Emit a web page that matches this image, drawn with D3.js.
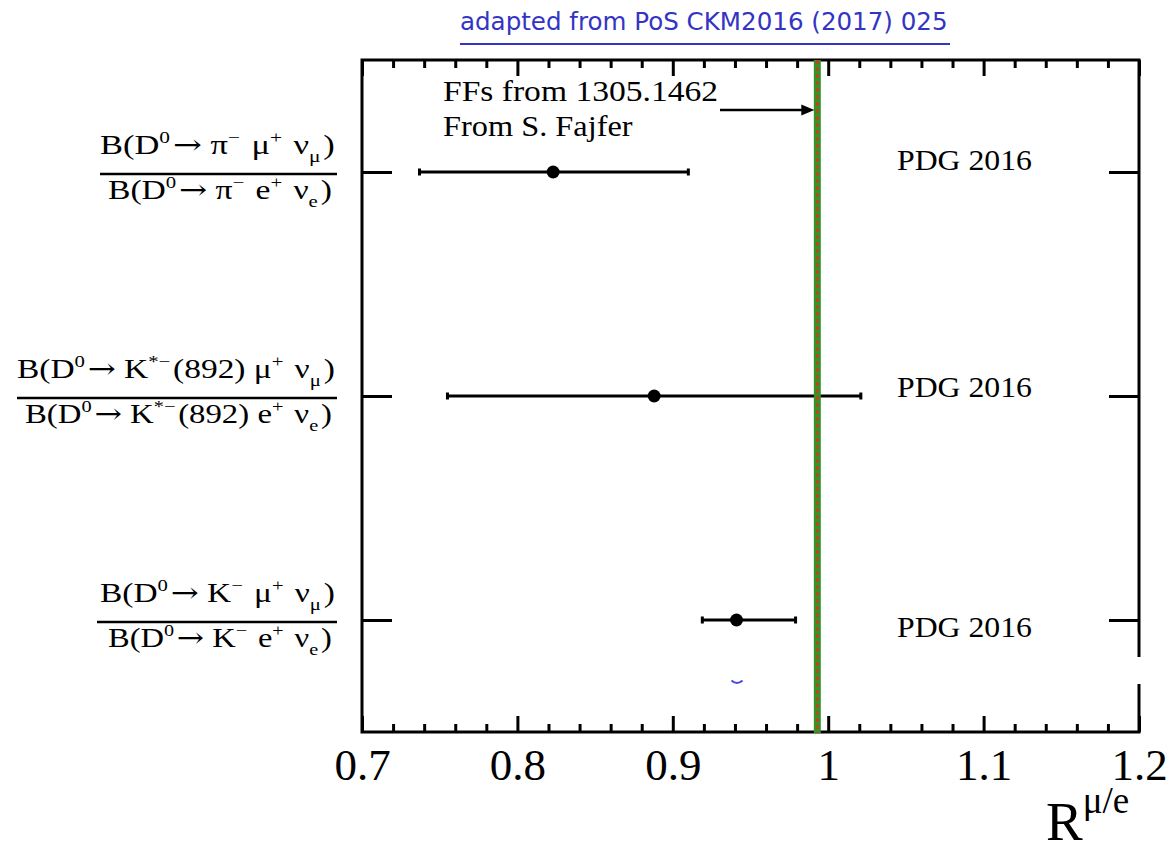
<!DOCTYPE html>
<html>
<head>
<meta charset="utf-8">
<script src="https://cdn.jsdelivr.net/npm/d3@7"></script>
<style>
  html, body { margin: 0; padding: 0; background: #fff; }
  svg { display: block; }
</style>
</head>
<body>
<svg id="chart" width="1173" height="853"></svg>
<script>
// Lepton-universality ratios R(mu/e) for semileptonic D0 decays
const channels = ["pi", "kstar", "k"];
const numeratorLabels = [
  "B(D^{0}→ π^{−} μ^{+} ν_{μ})",
  "B(D^{0}→ K^{*−}(892) μ^{+} ν_{μ})",
  "B(D^{0}→ K^{−} μ^{+} ν_{μ})"
];
const denominatorLabels = [
  "B(D^{0}→ π^{−} e^{+} ν_{e})",
  "B(D^{0}→ K^{*−}(892) e^{+} ν_{e})",
  "B(D^{0}→ K^{−} e^{+} ν_{e})"
];
const ratioValues = [0.823, 0.888, 0.941];
const errorLow = [0.086, 0.133, 0.022];
const errorHigh = [0.087, 0.133, 0.038];
const sourceLabels = ["PDG 2016", "PDG 2016", "PDG 2016"];
const predictionValue = 0.993;
const predictionNote = ["FFs from 1305.1462", "From S. Fajfer"];
const xTickValues = [0.7, 0.8, 0.9, 1.0, 1.1, 1.2];
const xTickLabels = ["0.7", "0.8", "0.9", "1", "1.1", "1.2"];
const titleText = "adapted from PoS CKM2016 (2017) 025";

const SERIF = "'Liberation Serif', 'Times New Roman', serif";
const svg = d3.select("#chart");

const frame = { left: 362, right: 1139, top: 60, bottom: 732 };
const x = d3.scaleLinear().domain([0.7, 1.2]).range([frame.left, frame.right]);
const y = d3.scalePoint().domain(channels).range([frame.top, frame.bottom]).padding(0.5);

// Fit a text element horizontally into [x0, x1] by stretching it
function fitWidth(sel, x0, x1) {
  const w = sel.node().getBBox().width;
  sel.attr("x", 0).attr("transform", `translate(${x0},0) scale(${(x1 - x0) / w},1)`);
}

// Title with underline
const title = svg.append("text")
  .attr("x", 460).attr("y", 30)
  .attr("font-family", "'DejaVu Sans', sans-serif")
  .attr("font-size", 21)
  .attr("fill", "#3434c4")
  .text(titleText);
const tw0 = title.node().getComputedTextLength();
title.attr("font-size", 21 * 488 / tw0);
svg.append("line")
  .attr("x1", 460).attr("x2", 950)
  .attr("y1", 44).attr("y2", 44)
  .attr("stroke", "#3434c4").attr("stroke-width", 2);

// Minor and major ticks, bottom and top, pointing into the frame
const minorTicks = d3.range(0.72, 1.2, 0.02).filter(v => Math.abs(v * 10 - Math.round(v * 10)) > 1e-6);
const gBottomMinor = svg.append("g").attr("transform", `translate(0,${frame.bottom})`)
  .call(d3.axisBottom(x).tickValues(minorTicks).tickSize(-8).tickFormat(""));
const gTopMinor = svg.append("g").attr("transform", `translate(0,${frame.top})`)
  .call(d3.axisTop(x).tickValues(minorTicks).tickSize(-8).tickFormat(""));
const gTopMajor = svg.append("g").attr("transform", `translate(0,${frame.top})`)
  .call(d3.axisTop(x).tickValues(xTickValues).tickSize(-16).tickFormat(""));
const gBottomMajor = svg.append("g").attr("transform", `translate(0,${frame.bottom})`)
  .call(d3.axisBottom(x).tickValues(xTickValues).tickSize(-16)
    .tickFormat((d, i) => xTickLabels[i]));
[gBottomMinor, gTopMinor, gTopMajor, gBottomMajor].forEach(g => {
  g.select(".domain").remove();
  g.selectAll(".tick line").attr("stroke", "#000").attr("stroke-width", 3);
});
gBottomMajor.selectAll(".tick text")
  .attr("y", 48).attr("dy", 0)
  .attr("font-family", SERIF).attr("font-size", 45).attr("fill", "#000");

// Category ticks on both vertical sides
const gLeft = svg.append("g").attr("transform", `translate(${frame.left},0)`)
  .call(d3.axisLeft(y).tickSize(-30).tickFormat(""));
const gRight = svg.append("g").attr("transform", `translate(${frame.right},0)`)
  .call(d3.axisRight(y).tickSize(-30).tickFormat(""));
[gLeft, gRight].forEach(g => {
  g.select(".domain").remove();
  g.selectAll(".tick line").attr("stroke", "#000").attr("stroke-width", 3);
});

// Frame
svg.append("rect")
  .attr("x", frame.left).attr("y", frame.top)
  .attr("width", frame.right - frame.left).attr("height", frame.bottom - frame.top)
  .attr("fill", "none").attr("stroke", "#000").attr("stroke-width", 3);

// Error bars with end caps and markers
const points = channels.map((c, i) => ({
  c, v: ratioValues[i], lo: ratioValues[i] - errorLow[i], hi: ratioValues[i] + errorHigh[i]
}));
const gPts = svg.append("g");
gPts.selectAll("line.err").data(points).join("line")
  .attr("x1", d => x(d.lo)).attr("x2", d => x(d.hi))
  .attr("y1", d => y(d.c)).attr("y2", d => y(d.c))
  .attr("stroke", "#000").attr("stroke-width", 3);
gPts.selectAll("rect.capl").data(points).join("rect")
  .attr("class", "capl")
  .attr("x", d => x(d.lo) - 1.5).attr("y", d => y(d.c) - 3.5)
  .attr("width", 3).attr("height", 7).attr("fill", "#000");
gPts.selectAll("rect.caph").data(points).join("rect")
  .attr("class", "caph")
  .attr("x", d => x(d.hi) - 1.5).attr("y", d => y(d.c) - 3.5)
  .attr("width", 3).attr("height", 7).attr("fill", "#000");
gPts.selectAll("circle").data(points).join("circle")
  .attr("cx", d => x(d.v)).attr("cy", d => y(d.c)).attr("r", 6.5).attr("fill", "#000");

// Source labels
const sourceOffsets = [-2, 1, 17];
svg.selectAll("text.src").data(channels).join("text")
  .attr("class", "src")
  .attr("y", (c, i) => y(c) + sourceOffsets[i])
  .attr("font-family", SERIF).attr("font-size", 30).attr("fill", "#000")
  .text((c, i) => sourceLabels[i])
  .each(function () { fitWidth(d3.select(this), x(1.0443), x(1.0443) + 135); });

// Stray blue mark and white patch over the frame edge
svg.append("path")
  .attr("d", "M731.5,680.5 Q737,685.5 742.5,680.5")
  .attr("fill", "none").attr("stroke", "#4646e6").attr("stroke-width", 2);
svg.append("rect")
  .attr("x", 887).attr("y", 657).attr("width", 263).attr("height", 27)
  .attr("fill", "#fff");

// Theory prediction: green band with red dashes
svg.append("line")
  .attr("x1", x(predictionValue)).attr("x2", x(predictionValue))
  .attr("y1", frame.top).attr("y2", frame.bottom + 1)
  .attr("stroke", "#2a9a2a").attr("stroke-width", 7);
svg.append("line")
  .attr("x1", x(predictionValue)).attr("x2", x(predictionValue))
  .attr("y1", frame.top).attr("y2", frame.bottom + 1)
  .attr("stroke", "#b8481e").attr("stroke-width", 3.5)
  .attr("stroke-dasharray", "4,3");

// Annotation and arrow
const noteWidths = [275, 190];
svg.selectAll("text.note").data(predictionNote).join("text")
  .attr("class", "note")
  .attr("y", (d, i) => 101 + i * 35)
  .attr("font-family", SERIF).attr("font-size", 29).attr("fill", "#000")
  .text(d => d)
  .each(function (d, i) { fitWidth(d3.select(this), 443, 443 + noteWidths[i]); });
const ax = x(predictionValue) - 3;
svg.append("line")
  .attr("x1", 720).attr("x2", ax - 8).attr("y1", 110).attr("y2", 110)
  .attr("stroke", "#000").attr("stroke-width", 2.5);
svg.append("path")
  .attr("d", `M${ax},110 L${ax - 13},104.5 L${ax - 13},115.5 Z`)
  .attr("fill", "#000");

// Ratio labels (fractions) on the left, written in a small ^{} / _{} markup
function richText(sel, str, size) {
  const parts = str.split(/(\^\{[^}]*\}|_\{[^}]*\}|→)/).filter(p => p.length);
  parts.forEach(p => {
    if (p.startsWith("^{")) {
      sel.append("tspan").attr("dy", -0.42 * size).attr("font-size", size * 0.62).text(p.slice(2, -1));
      sel.append("tspan").attr("dy", 0.42 * size).attr("font-size", size).text("\u200A");
    } else if (p.startsWith("_{")) {
      sel.append("tspan").attr("dy", 0.3 * size).attr("font-size", size * 0.62).text(p.slice(2, -1));
      sel.append("tspan").attr("dy", -0.3 * size).attr("font-size", size).text("\u200A");
    } else if (p === "→") {
      sel.append("tspan").attr("font-family", "'DejaVu Serif', serif").text("→");
    } else {
      sel.append("tspan").text(p.replace(/ /g, "\u2005"));
    }
  });
}
const labelSize = 27;
const numSpan = [[100, 335], [17, 335], [100, 335]];
const denSpan = [[108, 332], [25, 332], [108, 332]];
const barSpan = [[100, 337], [17, 337], [97, 337]];
channels.forEach((c, i) => {
  const yc = y(c);
  const g = svg.append("g");
  const num = g.append("text")
    .attr("y", yc - 18)
    .attr("font-family", SERIF).attr("font-size", labelSize).attr("fill", "#000");
  richText(num, numeratorLabels[i], labelSize);
  fitWidth(num, numSpan[i][0], numSpan[i][1]);
  const den = g.append("text")
    .attr("y", yc + 27)
    .attr("font-family", SERIF).attr("font-size", labelSize).attr("fill", "#000");
  richText(den, denominatorLabels[i], labelSize);
  fitWidth(den, denSpan[i][0], denSpan[i][1]);
  g.append("line")
    .attr("x1", barSpan[i][0]).attr("x2", barSpan[i][1])
    .attr("y1", yc + 2).attr("y2", yc + 2)
    .attr("stroke", "#000").attr("stroke-width", 2.5);
});

// Axis title R^{mu/e}
const rt = svg.append("text")
  .attr("x", 1046).attr("y", 840)
  .attr("font-family", SERIF).attr("font-size", 55).attr("fill", "#000");
rt.append("tspan").text("R");
rt.append("tspan").attr("dy", -27).attr("font-size", 37).text("μ/e");
</script>
</body>
</html>
